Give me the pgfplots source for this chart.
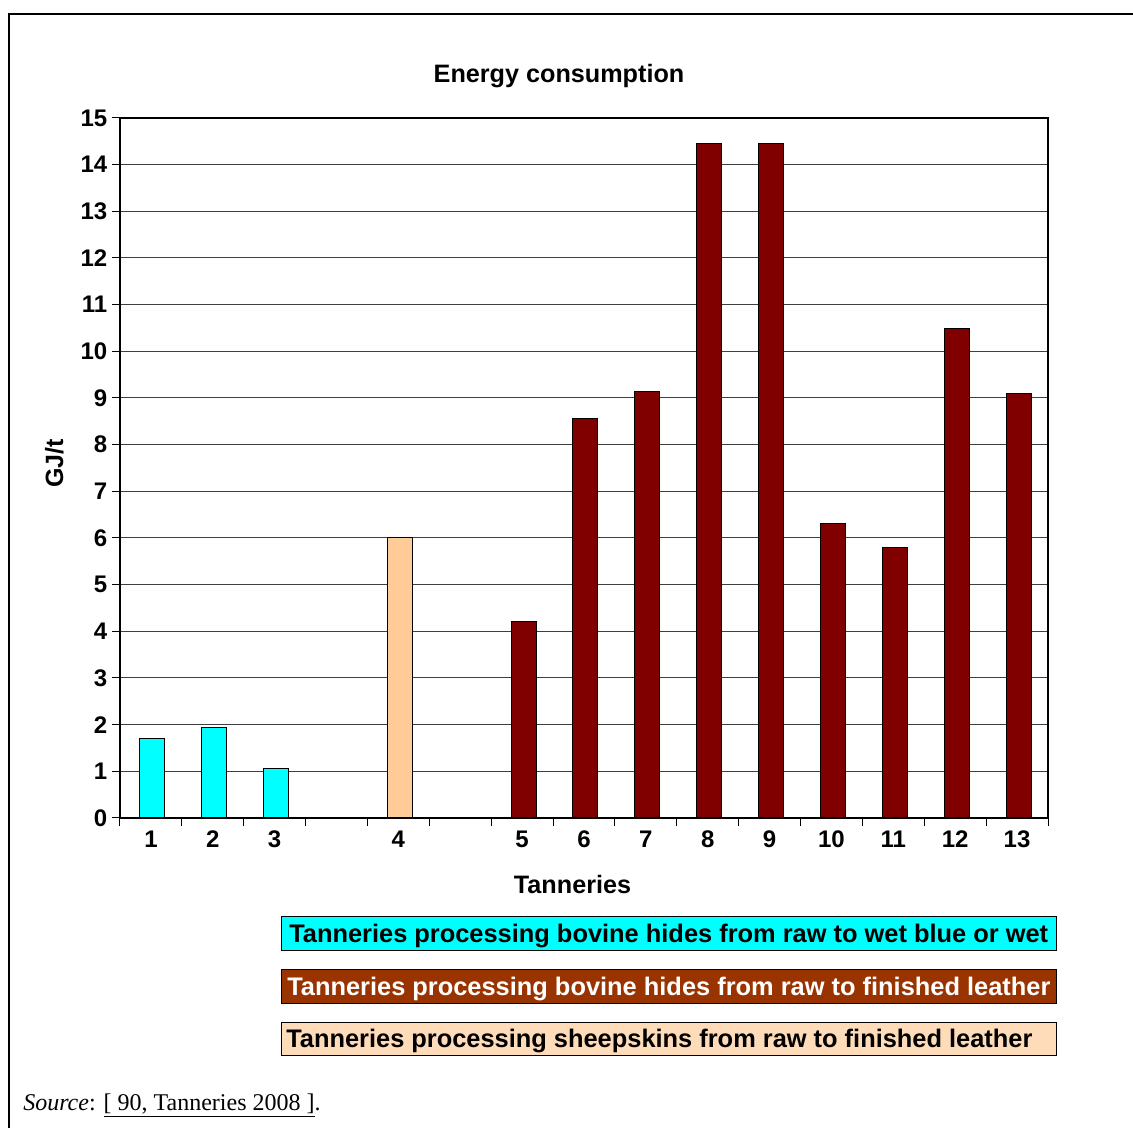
\documentclass[border=0pt]{standalone}
\usepackage{pgfplots}
\pgfplotsset{compat=1.18}
\usepackage{fontspec}
\setmainfont{Liberation Sans}
\newfontfamily\timesfont{Liberation Serif}
\definecolor{cyanbar}{HTML}{00FFFF}
\definecolor{peach}{HTML}{FFCC99}
\definecolor{darkred}{HTML}{800000}
\definecolor{brownleg}{HTML}{993300}
\definecolor{peachleg}{HTML}{FFDCB9}
\begin{document}
\begin{tikzpicture}
\begin{scope}[x=0.75pt,y=0.75pt]
\useasboundingbox (0,0) rectangle (1133,1128);
\draw[line width=1.5pt] (9,-5) -- (9,1114) -- (1140,1114);
\node[anchor=base,inner sep=0,font=\bfseries\fontsize{18.9}{22}\selectfont] at (559,1045) {Energy consumption};
\node[anchor=base,inner sep=0,font=\bfseries\fontsize{18.9}{22}\selectfont] at (572.5,234) {Tanneries};
\node[anchor=base,rotate=90,inner sep=0,font=\bfseries\fontsize{18.75}{22}\selectfont] at (63,664.5) {GJ/t};
\draw[fill=cyanbar, line width=0.75pt] (281,177) rectangle (1056,211);
\draw[fill=brownleg, line width=0.75pt] (281,124) rectangle (1056,158);
\draw[fill=peachleg, line width=0.75pt] (281,72) rectangle (1056,105);
\node[anchor=base west,inner sep=0,font=\bfseries\fontsize{19.05}{22}\selectfont] at (289,185.5) {Tanneries processing bovine hides from raw to wet blue or wet};
\node[anchor=base west,inner sep=0,text=white,font=\bfseries\fontsize{19.05}{22}\selectfont] at (287,132.5) {Tanneries processing bovine hides from raw to finished leather};
\node[anchor=base west,inner sep=0,font=\bfseries\fontsize{19.05}{22}\selectfont] at (286,80) {Tanneries processing sheepskins from raw to finished leather};
\node[anchor=base west,inner sep=0,font=\timesfont\fontsize{18}{20}\selectfont] at (23,17) {\textit{Source}: \underline{[ 90, Tanneries 2008 ]}.};
\end{scope}
\begin{axis}[
  at={(90pt,232.5pt)}, anchor=south west,
  scale only axis, width=696pt, height=525pt,
  xmin=-0.5, xmax=14.5, ymin=0, ymax=15,
  ytick={0,1,...,15},
  xtick={0,1,2,4,6,7,8,9,10,11,12,13,14},
  xticklabels={1,2,3,4,5,6,7,8,9,10,11,12,13},
  minor xtick={-0.5,0.5,...,14.5},
  major x tick style={draw=none},
  tick align=outside,
  major tick length=6pt,
  minor tick length=6pt,
  xtick pos=bottom, ytick pos=left,
  ymajorgrids,
  grid style={black!75, line width=0.75pt},
  axis line style={line width=0.9pt},
  tick style={black, line width=0.75pt},
  ticklabel style={font=\bfseries\fontsize{18}{20}\selectfont},
  /pgf/number format/assume math mode=true,
  axis background/.style={fill=white},
]
\addplot[ybar, bar shift=1.1pt, bar width=18.75pt, fill=cyanbar, draw=black, line width=0.75pt] coordinates {(0,1.71) (1,1.93) (2,1.07)};
\addplot[ybar, bar shift=1.1pt, bar width=18.75pt, fill=peach, draw=black, line width=0.75pt] coordinates {(4,6.02)};
\addplot[ybar, bar shift=1.1pt, bar width=18.75pt, fill=darkred, draw=black, line width=0.75pt] coordinates {(6,4.2) (7,8.57) (8,9.13) (9,14.46) (10,14.46) (11,6.3) (12,5.79) (13,10.48) (14,9.09)};
\end{axis}
\end{tikzpicture}
\end{document}
